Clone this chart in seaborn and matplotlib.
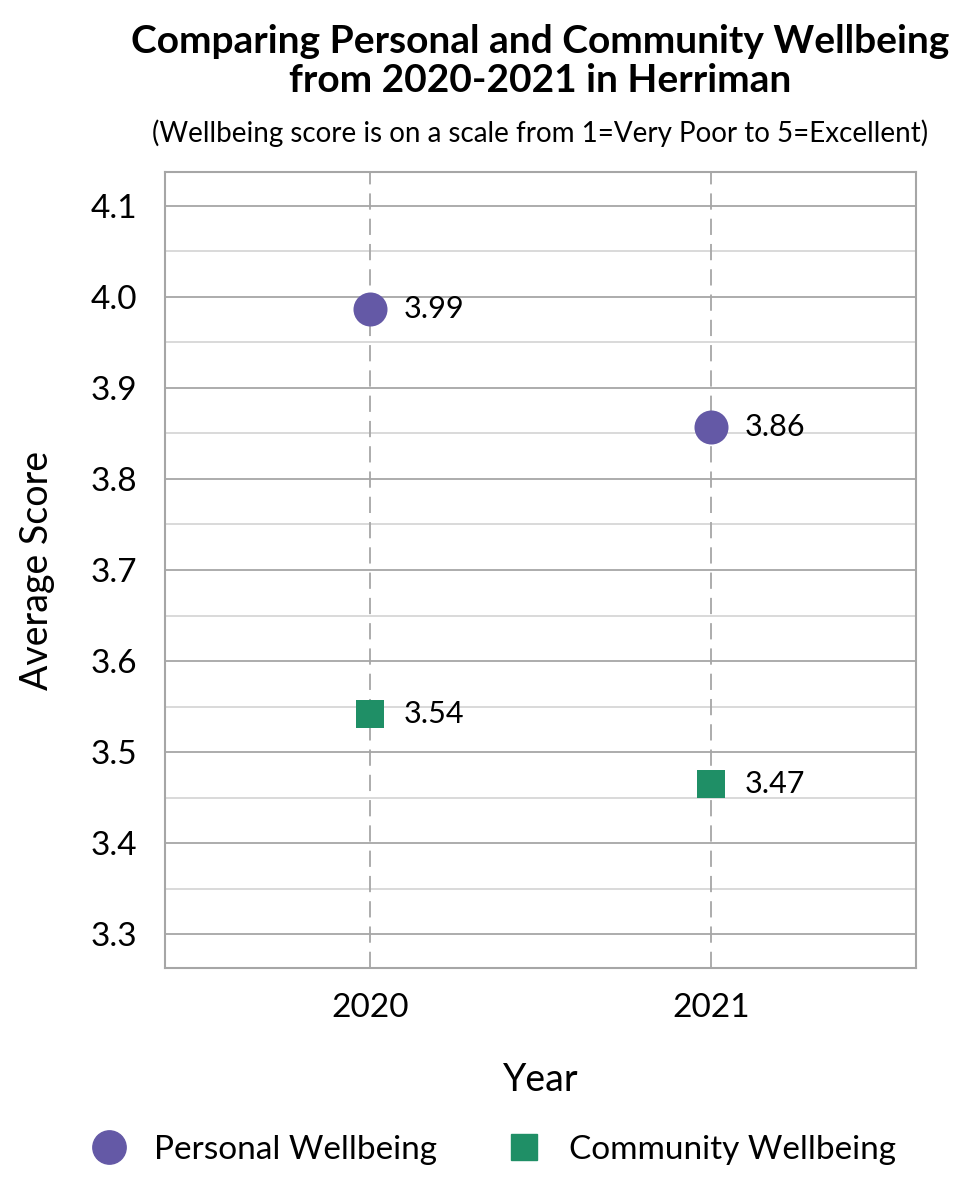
import matplotlib
matplotlib.use("Agg")
import matplotlib.pyplot as plt
import seaborn as sns
import pandas as pd
from matplotlib.ticker import MultipleLocator

years = ["2020", "2021"]
personal = [3.987, 3.857]
community = [3.542, 3.465]
personal_labels = ["3.99", "3.86"]
community_labels = ["3.54", "3.47"]
series = ["Personal Wellbeing", "Community Wellbeing"]
colors = {"Personal Wellbeing": "#6459A6", "Community Wellbeing": "#1F8F66"}
markers = {"Personal Wellbeing": "o", "Community Wellbeing": "s"}
sizes = {"Personal Wellbeing": 600, "Community Wellbeing": 390}

df = pd.DataFrame({
    "Year": years * 2,
    "Score": personal + community,
    "Series": [series[0]] * 2 + [series[1]] * 2,
    "Label": personal_labels + community_labels,
})

sns.set_style("white")
plt.rcParams["font.family"] = ["Lato", "DejaVu Sans"]
plt.rcParams["text.color"] = "black"
plt.rcParams["axes.labelcolor"] = "black"
plt.rcParams["xtick.color"] = "black"
plt.rcParams["ytick.color"] = "black"

fig = plt.figure(figsize=(9.6, 12), dpi=100)
ax = fig.add_axes([0.172, 0.193, 0.782, 0.664])

# grid first so points sit on top
ax.yaxis.set_major_locator(MultipleLocator(0.1))
ax.yaxis.set_minor_locator(MultipleLocator(0.05))
ax.grid(which="major", axis="y", color="#a6a6a6", lw=1.3)
ax.grid(which="minor", axis="y", color="#d0d0d0", lw=1.1)
ax.set_axisbelow(True)

for name in series:
    sub = df[df["Series"] == name]
    sns.scatterplot(data=sub, x="Year", y="Score", color=colors[name],
                    marker=markers[name], s=sizes[name], linewidth=0, ax=ax,
                    legend=False, zorder=5)

for i, yr in enumerate(years):
    ax.axvline(i, color="#a6a6a6", lw=1.3, ls=(0, (9, 5)), zorder=1)

for _, r in df.iterrows():
    ax.annotate(r["Label"], (years.index(r["Year"]), r["Score"]),
                xytext=(24, 0), textcoords="offset points",
                ha="left", va="center", fontsize=22)

ax.set_xlim(-0.6, 1.6)
ax.set_ylim(3.2625, 4.1375)
ax.set_yticks([3.3, 3.4, 3.5, 3.6, 3.7, 3.8, 3.9, 4.0, 4.1])
ax.set_yticklabels([f"{v:.1f}" for v in ax.get_yticks()])
ax.tick_params(axis="both", which="both", length=0, labelsize=24, pad=20)
ax.tick_params(axis="x", pad=18)
for sp in ax.spines.values():
    sp.set_color("#a6a6a6")
    sp.set_linewidth(1.5)

ax.set_xlabel("Year", fontsize=27, labelpad=28)
ax.set_ylabel("Average Score", fontsize=27, labelpad=26)

fig.text(0.563, 0.949, "Comparing Personal and Community Wellbeing\nfrom 2020-2021 in Herriman",
         ha="center", va="center", fontsize=28, fontweight="bold", linespacing=1.12)
fig.text(0.563, 0.889, "(Wellbeing score is on a scale from 1=Very Poor to 5=Excellent)",
         ha="center", va="center", fontsize=20)

handles = [plt.Line2D([], [], marker=markers[n], color=colors[n], ls="",
                      markersize=24 if n == series[0] else 19) for n in series]
fig.legend(handles, series, loc="center", bbox_to_anchor=(0.506, 0.042), ncol=2,
           frameon=False, fontsize=24, handletextpad=0.35, columnspacing=1.6)

fig.savefig("out.png", dpi=100)
